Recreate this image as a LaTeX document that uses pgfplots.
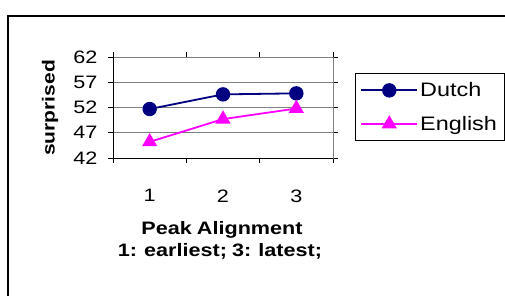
\documentclass[border=0pt]{standalone}
\usepackage{pgfplots}
\pgfplotsset{compat=1.18}
\usepackage{fontspec}
\setmainfont[FakeStretch=1.2, WordSpace=0.85]{Liberation Sans}
\definecolor{dutch}{RGB}{0,0,128}
\definecolor{english}{RGB}{255,0,255}
\definecolor{gridgray}{RGB}{128,128,128}
\begin{document}
\begin{tikzpicture}[x=1pt,y=1pt]
\useasboundingbox (0,0) rectangle (505,295);
\draw[line width=1.3pt] (8,-2) -- (8,279) -- (507,279);
\begin{axis}[
  at={(113pt,137pt)}, anchor=south west,
  scale only axis, width=220pt, height=101pt,
  xmin=0.5, xmax=3.5, ymin=42, ymax=62,
  xtick={1,2,3}, ytick={42,47,52,57,62},
  minor xtick={0.5,1.5,2.5,3.5},
  tick align=outside, major tick length=5pt, minor tick length=5pt,
  major x tick style={draw=none},
  minor x tick style={black, line width=0.8pt},
  y tick style={black, line width=0.8pt},
  axis line style={gridgray, line width=0.8pt},
  ymajorgrids, grid style={gridgray, line width=0.8pt},
  /pgf/number format/assume math mode=true,
  tick label style={font=\fontsize{18}{20}\selectfont},
  xticklabel style={yshift=-23pt},
  yticklabel style={xshift=-7pt},
  legend style={at={(1.1,0.84)}, anchor=north west, draw=black, line width=0.8pt,
    font=\fontsize{19.5}{21}\selectfont, inner xsep=5pt, inner ysep=7pt,
    row sep=14pt, cells={anchor=west}},
  legend image code/.code={
    \draw[#1] (0pt,0pt) -- (28pt,0pt) -- (56pt,0pt);
    \draw[#1, only marks] plot coordinates {(28pt,0pt)};
  },
  clip=false,
]
\draw[black, line width=0.9pt] (axis cs:0.5,62) -- (axis cs:0.5,42) -- (axis cs:3.5,42);
\addplot[dutch, line width=1.8pt, mark=*, mark size=6.3pt, mark options={solid, fill=dutch}]
  coordinates {(1,51.7) (2,54.6) (3,54.8)};
\addlegendentry{Dutch}
\addplot[english, line width=1.8pt, mark=triangle*, mark size=7pt, mark options={solid, fill=english}]
  coordinates {(1,45.2) (2,49.7) (3,51.8)};
\addlegendentry{English}
\end{axis}
\node[font=\bfseries\fontsize{17.5}{20}\selectfont, rotate=90] at (50,187) {surprised};
\node[font=\bfseries\fontsize{18}{20}\selectfont] at (222,65) {Peak Alignment};
\node[font=\bfseries\fontsize{18}{20}\selectfont] at (220,44) {1: earliest; 3: latest;};
\end{tikzpicture}
\end{document}
